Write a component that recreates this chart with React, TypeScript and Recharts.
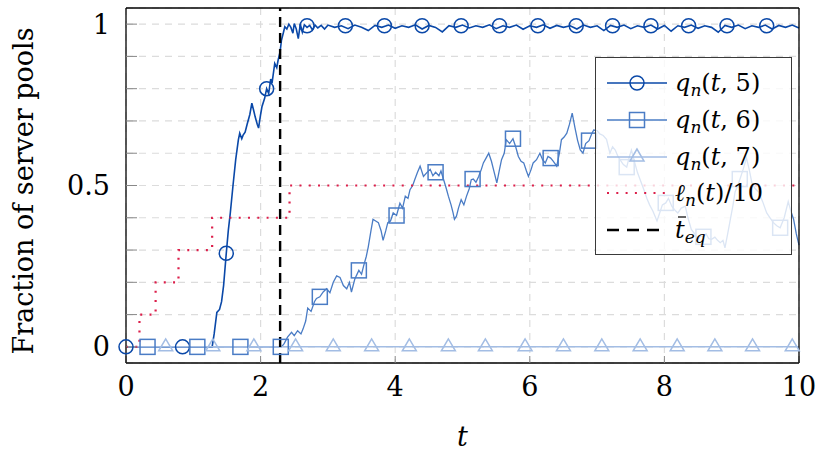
import { ComposedChart, Line, XAxis, YAxis, CartesianGrid, ReferenceLine, Legend, Label } from 'recharts';

// q_n(t,5): sample times and values
const q5T = [0, 1.28, 1.31, 1.35, 1.39, 1.42, 1.45, 1.49, 1.52, 1.55, 1.59, 1.63, 1.67, 1.69, 1.72, 1.74, 1.77, 1.8, 1.84, 1.87, 1.9, 1.92, 1.95, 1.97, 2.0, 2.02, 2.06, 2.09, 2.12, 2.15, 2.17, 2.21, 2.24, 2.26, 2.29, 2.31, 2.34, 2.36, 2.39, 2.42, 2.45, 2.48, 2.5, 2.53, 2.56, 2.59, 2.62, 2.65, 2.69, 2.73, 2.77, 2.81, 2.85, 2.9, 2.95, 3.0, 3.1, 3.2, 3.3, 3.4, 3.5, 3.6, 3.7, 3.8, 3.9, 4.0, 4.1, 4.2, 4.3, 4.4, 4.5, 4.6, 4.7, 4.8, 4.9, 5.0, 5.1, 5.2, 5.3, 5.4, 5.5, 5.6, 5.7, 5.8, 5.9, 6.0, 6.1, 6.2, 6.3, 6.4, 6.5, 6.6, 6.7, 6.8, 6.9, 7.0, 7.1, 7.2, 7.3, 7.4, 7.5, 7.6, 7.7, 7.8, 7.9, 8.0, 8.1, 8.2, 8.3, 8.4, 8.5, 8.6, 8.7, 8.8, 8.9, 9.0, 9.1, 9.2, 9.3, 9.4, 9.5, 9.6, 9.7, 9.8, 9.9, 10];
const q5V = [0, 0, 0.04, 0.107, 0.116, 0.14, 0.19, 0.29, 0.36, 0.415, 0.5, 0.58, 0.642, 0.662, 0.645, 0.656, 0.665, 0.69, 0.72, 0.755, 0.73, 0.712, 0.69, 0.678, 0.72, 0.744, 0.77, 0.8, 0.785, 0.83, 0.817, 0.878, 0.865, 0.888, 0.915, 0.95, 0.975, 0.992, 0.985, 1.0, 0.99, 0.972, 1.002, 0.985, 0.955, 1.0, 0.975, 0.998, 0.99, 0.996, 0.982, 0.997, 0.988, 0.996, 0.985, 0.997, 0.99, 0.995, 0.986, 0.997, 0.99, 0.98, 0.996, 0.99, 0.997, 0.987, 0.995, 0.99, 0.998, 0.985, 0.996, 0.99, 0.976, 0.995, 0.99, 0.997, 0.988, 0.995, 0.99, 0.998, 0.986, 0.995, 0.99, 0.997, 0.984, 0.995, 0.99, 0.998, 0.987, 0.996, 0.99, 0.995, 0.985, 0.997, 0.99, 0.995, 0.98, 0.996, 0.99, 0.997, 0.986, 0.995, 0.99, 0.997, 0.985, 0.996, 0.978, 0.995, 0.99, 0.997, 0.987, 0.995, 0.99, 0.975, 0.996, 0.99, 0.997, 0.986, 0.995, 0.99, 0.997, 0.985, 0.996, 0.99, 0.997, 0.988];

// q_n(t,6)
const q6T = [0, 2.31, 2.35, 2.4, 2.46, 2.5, 2.55, 2.6, 2.63, 2.67, 2.7, 2.75, 2.8, 2.83, 2.88, 2.93, 2.98, 3.03, 3.08, 3.13, 3.18, 3.23, 3.28, 3.32, 3.35, 3.4, 3.46, 3.5, 3.53, 3.57, 3.6, 3.64, 3.67, 3.71, 3.75, 3.79, 3.82, 3.86, 3.89, 3.93, 3.97, 4.02, 4.07, 4.11, 4.15, 4.19, 4.22, 4.26, 4.29, 4.33, 4.37, 4.42, 4.47, 4.52, 4.56, 4.6, 4.65, 4.68, 4.72, 4.76, 4.79, 4.83, 4.86, 4.88, 4.91, 4.94, 4.98, 5.02, 5.06, 5.1, 5.13, 5.16, 5.2, 5.24, 5.28, 5.31, 5.35, 5.39, 5.43, 5.46, 5.51, 5.55, 5.58, 5.62, 5.65, 5.7, 5.75, 5.79, 5.83, 5.87, 5.91, 5.95, 5.98, 6.02, 6.05, 6.1, 6.15, 6.19, 6.23, 6.27, 6.31, 6.35, 6.4, 6.44, 6.47, 6.51, 6.55, 6.59, 6.63, 6.67, 6.71, 6.75, 6.79, 6.83, 6.88, 6.92, 6.95, 7.0, 7.04, 7.09, 7.14, 7.19, 7.23, 7.27, 7.31, 7.34, 7.39, 7.44, 7.48, 7.51, 7.56, 7.6, 7.64, 7.69, 7.74, 7.78, 7.83, 7.89, 7.93, 7.97, 8.02, 8.06, 8.11, 8.15, 8.2, 8.25, 8.31, 8.35, 8.4, 8.45, 8.5, 8.54, 8.58, 8.62, 8.66, 8.7, 8.75, 8.79, 8.83, 8.87, 8.9, 8.94, 8.98, 9.02, 9.05, 9.09, 9.12, 9.17, 9.22, 9.26, 9.3, 9.35, 9.4, 9.46, 9.52, 9.57, 9.62, 9.67, 9.72, 9.78, 9.84, 9.88, 9.92, 9.96, 10];
const q6V = [0, 0, 0.01, 0.03, 0.045, 0.035, 0.05, 0.04, 0.055, 0.08, 0.12, 0.11, 0.14, 0.15, 0.155, 0.17, 0.18, 0.168, 0.2, 0.22, 0.215, 0.19, 0.18, 0.2, 0.17, 0.21, 0.237, 0.225, 0.25, 0.28, 0.31, 0.36, 0.395, 0.39, 0.385, 0.36, 0.33, 0.36, 0.385, 0.39, 0.415, 0.407, 0.445, 0.43, 0.467, 0.46, 0.487, 0.5, 0.518, 0.54, 0.56, 0.528, 0.54, 0.55, 0.53, 0.541, 0.53, 0.545, 0.518, 0.49, 0.467, 0.44, 0.415, 0.395, 0.405, 0.43, 0.456, 0.44, 0.467, 0.49, 0.518, 0.52, 0.51, 0.528, 0.55, 0.57, 0.585, 0.6, 0.575, 0.55, 0.508, 0.55, 0.58, 0.6, 0.642, 0.63, 0.645, 0.62, 0.59, 0.575, 0.57, 0.545, 0.528, 0.55, 0.57, 0.58, 0.6, 0.58, 0.57, 0.59, 0.585, 0.575, 0.56, 0.6, 0.642, 0.65, 0.662, 0.69, 0.724, 0.68, 0.64, 0.61, 0.6, 0.63, 0.639, 0.66, 0.672, 0.67, 0.66, 0.655, 0.643, 0.6, 0.62, 0.61, 0.59, 0.58, 0.565, 0.557, 0.59, 0.61, 0.57, 0.54, 0.518, 0.49, 0.46, 0.44, 0.42, 0.39, 0.415, 0.44, 0.446, 0.46, 0.436, 0.425, 0.415, 0.43, 0.436, 0.4, 0.364, 0.35, 0.333, 0.345, 0.341, 0.35, 0.335, 0.333, 0.34, 0.33, 0.323, 0.33, 0.307, 0.35, 0.395, 0.44, 0.48, 0.5, 0.518, 0.55, 0.585, 0.55, 0.508, 0.49, 0.48, 0.45, 0.415, 0.4, 0.385, 0.375, 0.369, 0.4, 0.45, 0.42, 0.395, 0.35, 0.315];

// q_n(t,7) stays at zero
const q7T = [0, 10];
const q7V = [0, 0];

// l_n(t)/10 step function
const ellT = [0, 0.2, 0.44, 0.78, 1.28, 2.43, 10];
const ellV = [0, 0.1, 0.2, 0.3, 0.4, 0.5, 0.5];

const tEq = 2.29;

// marker positions
const q5MarkT = [0, 0.84, 1.49, 2.09, 2.69, 3.26, 3.84, 4.4, 4.98, 5.55, 6.12, 6.69, 7.23, 7.8, 8.36, 8.93, 9.52];
const q5MarkV = [0, 0, 0.29, 0.8, 0.995, 0.995, 0.995, 0.995, 0.995, 0.995, 0.995, 0.995, 0.995, 0.995, 0.995, 0.995, 0.995];
const q6MarkT = [0.32, 1.06, 1.7, 2.3, 2.88, 3.46, 4.02, 4.6, 5.15, 5.75, 6.31, 6.88, 7.44, 8.02, 8.58, 9.12, 9.72];
const q6MarkV = [0, 0, 0, 0, 0.155, 0.237, 0.407, 0.541, 0.52, 0.645, 0.585, 0.639, 0.557, 0.446, 0.341, 0.52, 0.369];
const q7MarkT = [0.59, 1.29, 1.9, 2.52, 3.08, 3.65, 4.21, 4.79, 5.34, 5.93, 6.5, 7.07, 7.64, 8.19, 8.75, 9.31, 9.9];
const q7MarkV = [0, 0, 0, 0, 0, 0, 0, 0, 0, 0, 0, 0, 0, 0, 0, 0, 0];

const xTicks = [0, 2, 4, 6, 8, 10];
const yTicks = [0, 0.1, 0.2, 0.3, 0.4, 0.5, 0.6, 0.7, 0.8, 0.9, 1];
const yLabels: Record<string, string> = { '0': '0', '0.5': '0.5', '1': '1' };

const C5 = '#0a48a8';
const C6 = '#4a7cc5';
const C7 = '#a3bde4';
const RED = '#dc1e4a';
const FONT = "'DejaVu Serif', serif";

const rows = (ts: number[], vs: number[]) => ts.map((t, i) => ({ t, v: vs[i] }));

const circleDot = (p: any) => (
  <circle key={p.index} cx={p.cx} cy={p.cy} r={7} fill="none" stroke={C5} strokeWidth={1.5} />
);
const squareDot = (p: any) => (
  <rect key={p.index} x={p.cx - 7.5} y={p.cy - 7.5} width={15} height={15} fill="none" stroke={C6} strokeWidth={1.5} />
);
const triDot = (p: any) => (
  <polygon key={p.index} points={`${p.cx},${p.cy - 8} ${p.cx - 7},${p.cy + 4} ${p.cx + 7},${p.cy + 4}`} fill="none" stroke={C7} strokeWidth={1.5} />
);

function LegendBox() {
  const ry = [25, 62, 99, 135, 172];
  const sub = { fontStyle: 'italic' as const, fontSize: 17 };
  return (
    <div style={{ width: 197, height: 198, boxSizing: 'border-box', border: '1.3px solid #3a3a3a', background: 'rgba(255,255,255,0.8)' }}>
      <svg width={195} height={196} style={{ display: 'block', fontFamily: FONT, fontSize: 24 }}>
        <line x1={11} x2={71} y1={ry[0]} y2={ry[0]} stroke={C5} strokeWidth={1.6} />
        <circle cx={41} cy={ry[0]} r={7} fill="none" stroke={C5} strokeWidth={1.5} />
        <line x1={11} x2={71} y1={ry[1]} y2={ry[1]} stroke={C6} strokeWidth={1.3} />
        <rect x={33.5} y={ry[1] - 7.5} width={15} height={15} fill="none" stroke={C6} strokeWidth={1.5} />
        <line x1={11} x2={71} y1={ry[2]} y2={ry[2]} stroke={C7} strokeWidth={1.3} />
        <polygon points={`41,${ry[2] - 8} 34,${ry[2] + 4} 48,${ry[2] + 4}`} fill="none" stroke={C7} strokeWidth={1.5} />
        <line x1={11} x2={71} y1={ry[3]} y2={ry[3]} stroke={RED} strokeWidth={2.2} strokeDasharray="2 7.3" />
        <line x1={11} x2={71} y1={ry[4]} y2={ry[4]} stroke="#000" strokeWidth={2.4} strokeDasharray="12 8" />
        <text x={79} y={ry[0] + 8}>
          <tspan fontStyle="italic">q</tspan><tspan {...sub} dy={5}>n</tspan><tspan dy={-5}>(</tspan><tspan fontStyle="italic">t</tspan><tspan>, 5)</tspan>
        </text>
        <text x={79} y={ry[1] + 8}>
          <tspan fontStyle="italic">q</tspan><tspan {...sub} dy={5}>n</tspan><tspan dy={-5}>(</tspan><tspan fontStyle="italic">t</tspan><tspan>, 6)</tspan>
        </text>
        <text x={79} y={ry[2] + 8}>
          <tspan fontStyle="italic">q</tspan><tspan {...sub} dy={5}>n</tspan><tspan dy={-5}>(</tspan><tspan fontStyle="italic">t</tspan><tspan>, 7)</tspan>
        </text>
        <text x={79} y={ry[3] + 8}>
          <tspan fontStyle="italic">ℓ</tspan><tspan {...sub} dy={5}>n</tspan><tspan dy={-5}>(</tspan><tspan fontStyle="italic">t</tspan><tspan>)/10</tspan>
        </text>
        <text x={79} y={ry[4] + 8}>
          <tspan fontStyle="italic">t</tspan><tspan {...sub} dy={5}>eq</tspan>
        </text>
        <line x1={82} x2={90} y1={ry[4] - 13} y2={ry[4] - 13} stroke="#000" strokeWidth={1.2} />
      </svg>
    </div>
  );
}

export default function App() {
  const tickFont = { fontSize: 27, fill: '#000', style: { fontFamily: FONT } };
  return (
    <div style={{ position: 'absolute', left: 0, top: 0 }}>
      <ComposedChart width={830} height={460} margin={{ top: 7, right: 30, bottom: 0, left: 0 }}>
        <CartesianGrid stroke="#dcdcdc" strokeWidth={1.2} strokeDasharray="7 6" />
        <XAxis type="number" dataKey="t" domain={[0, 10]} ticks={xTicks} height={97}
          stroke="#000" strokeWidth={1.3} tickSize={-7} tickMargin={21}
          tickLine={{ stroke: '#888', strokeWidth: 1 }} tick={tickFont}>
          <Label value="t" position="insideBottom" offset={14} fontSize={27} style={{ fontFamily: FONT, fontStyle: 'italic' }} fill="#000" />
        </XAxis>
        <XAxis xAxisId="top" orientation="top" type="number" dataKey="t" domain={[0, 10]} ticks={xTicks} height={1}
          stroke="#000" strokeWidth={1.3} tickSize={-7} tickFormatter={() => ''}
          tickLine={{ stroke: '#888', strokeWidth: 1 }} />
        <YAxis type="number" domain={[-0.05, 1.05]} ticks={yTicks} width={126}
          stroke="#000" strokeWidth={1.3} tickSize={-11} tickMargin={27}
          tickLine={{ stroke: '#888', strokeWidth: 1 }} tick={tickFont}
          tickFormatter={(v: number) => yLabels[String(v)] ?? ''}
          label={{
            content: () => (
              <text x={33} y={191} transform="rotate(-90 33 191)" textAnchor="middle" fontSize={27}
                style={{ fontFamily: FONT }} fill="#000">Fraction of server pools</text>
            ),
          }} />
        <YAxis yAxisId="right" orientation="right" type="number" domain={[-0.05, 1.05]} ticks={yTicks} width={1}
          stroke="#000" strokeWidth={1.3} tickSize={-9} tickFormatter={() => ''}
          tickLine={{ stroke: '#888', strokeWidth: 1 }} />

        <Line data={rows(q5T, q5V)} dataKey="v" stroke={C5} strokeWidth={1.6} dot={false} isAnimationActive={false} legendType="none" />
        <Line data={rows(q5MarkT, q5MarkV)} dataKey="v" stroke="none" dot={circleDot} isAnimationActive={false} legendType="none" />
        <Line data={rows(q6T, q6V)} dataKey="v" stroke={C6} strokeWidth={1.3} dot={false} isAnimationActive={false} legendType="none" />
        <Line data={rows(q6MarkT, q6MarkV)} dataKey="v" stroke="none" dot={squareDot} isAnimationActive={false} legendType="none" />
        <Line data={rows(q7T, q7V)} dataKey="v" stroke={C7} strokeWidth={1.5} dot={false} isAnimationActive={false} legendType="none" />
        <Line data={rows(q7MarkT, q7MarkV)} dataKey="v" stroke="none" dot={triDot} isAnimationActive={false} legendType="none" />
        <Line data={rows(ellT, ellV)} dataKey="v" type="stepAfter" stroke={RED} strokeWidth={2.2} strokeDasharray="2 7.3" dot={false} isAnimationActive={false} legendType="none" />
        <ReferenceLine x={tEq} stroke="#000" strokeWidth={2.4} strokeDasharray="10 6" />

        <Legend layout="vertical" align="center" verticalAlign="middle" content={() => <LegendBox />}
          wrapperStyle={{ position: 'absolute', left: 595, top: 57, width: 197, height: 198 }} />
      </ComposedChart>
    </div>
  );
}
